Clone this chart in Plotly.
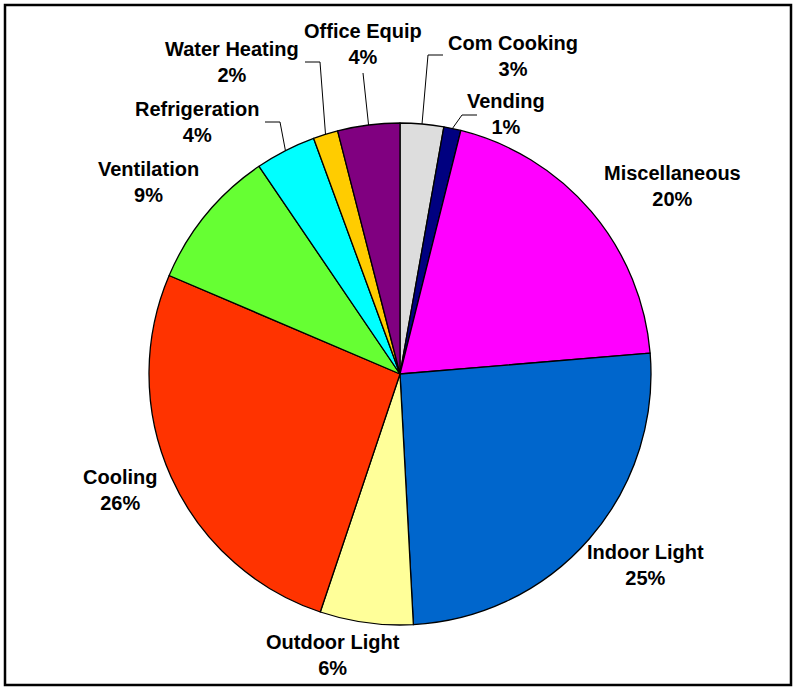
"""Commercial electricity end-use pie chart (Excel style) with Plotly."""

import math
import plotly.graph_objects as go

# data, clockwise from 12 o'clock
categories = ["Com Cooking", "Vending", "Miscellaneous", "Indoor Light", "Outdoor Light",
              "Cooling", "Ventilation", "Refrigeration", "Water Heating", "Office Equip"]
shares = [2.8, 1.1, 19.8, 25.5, 6.0, 26.3, 9.1, 3.9, 1.6, 4.0]
colors = ["#DDDDDD", "#000080", "#FF00FF", "#0066CC", "#FFFF99",
          "#FF3300", "#66FF33", "#00FFFF", "#FFCC00", "#800080"]

W, H = 794, 687
CX, CY, R = 400, 374, 251

# label centres in pixels (x, y of the two-line block)
label_pos = [(513, 56), (506, 114), (672, 186), (645, 565), (333, 655),
             (120, 490), (148, 182), (197, 122), (232, 62), (363, 44)]
# leader line elbows for the small slices (None = no leader)
leader = [[(443, 55), (428, 55)], [(477, 115), (462, 115)], None, None, None,
          None, None, [(265, 122), (280, 122)], [(305, 62), (320, 62)], [(363, 73)]]


def px(x, y):
    return x / W, 1 - y / H


total = sum(shares)

fig = go.Figure()
fig.add_trace(go.Pie(
    labels=categories,
    values=shares,
    sort=False,
    direction="clockwise",
    rotation=0,
    textinfo="none",
    hoverinfo="label+percent",
    marker=dict(colors=colors, line=dict(color="black", width=1.3)),
    domain=dict(x=[(CX - R) / W, (CX + R) / W], y=[1 - (CY + R) / H, 1 - (CY - R) / H]),
    showlegend=False,
))

annotations = []
shapes = []
cum = 0
for name, v, pos, elbow in zip(categories, shares, label_pos, leader):
    mid = 2 * math.pi * (cum + v / 2) / total
    cum += v
    ax, ay = px(*pos)
    annotations.append(dict(
        x=ax, y=ay, xref="paper", yref="paper",
        text=f"<b>{name}</b><br><b>{round(v / total * 100)}%</b>",
        showarrow=False, xanchor="center", yanchor="middle",
        font=dict(family="Liberation Sans, Arial", size=20, color="black"),
    ))
    if elbow:
        edge = (CX + R * math.sin(mid), CY - R * math.cos(mid))
        pts = elbow + [edge]
        for (x0, y0), (x1, y1) in zip(pts[:-1], pts[1:]):
            p0 = px(x0, y0)
            p1 = px(x1, y1)
            shapes.append(dict(type="line", xref="paper", yref="paper",
                               x0=p0[0], y0=p0[1], x1=p1[0], y1=p1[1],
                               line=dict(color="black", width=1)))

# chart frame
f0 = px(5, 5)
f1 = px(791, 685)
shapes.append(dict(type="rect", xref="paper", yref="paper",
                   x0=f0[0], y0=f1[1], x1=f1[0], y1=f0[1],
                   line=dict(color="black", width=2.5)))

fig.update_layout(
    width=W,
    height=H,
    margin=dict(l=0, r=0, t=0, b=0),
    paper_bgcolor="white",
    plot_bgcolor="white",
    annotations=annotations,
    shapes=shapes,
    font=dict(family="Liberation Sans, Arial"),
)

# drop the default page margin so the figure sits at the window corner
fig.write_html("out.html", config={"displayModeBar": False},
               post_script="document.body.style.margin='0';")
